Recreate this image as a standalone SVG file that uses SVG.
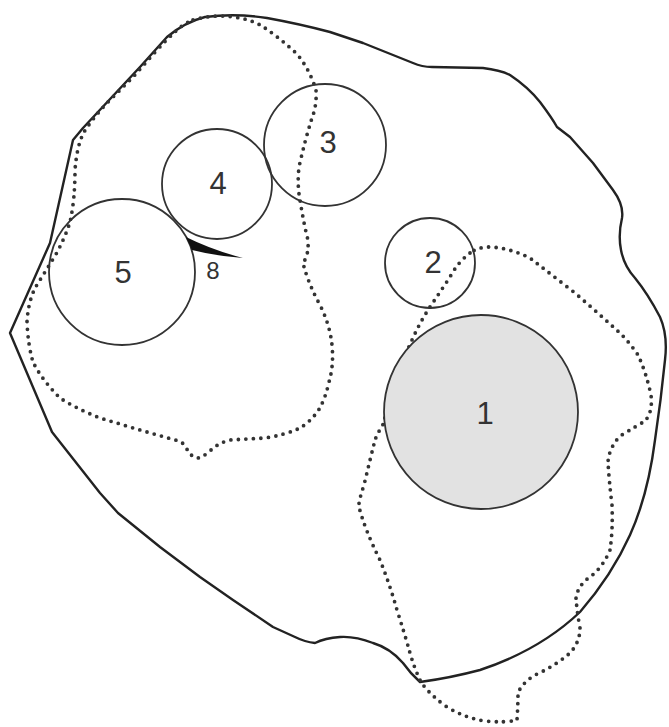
<svg xmlns="http://www.w3.org/2000/svg" width="669" height="727" viewBox="0 0 669 727">
<style>
.outline{fill:none;stroke:#222;stroke-width:2.4;stroke-linejoin:round;stroke-linecap:round}
.dots{fill:none;stroke:#333;stroke-width:3.8;stroke-dasharray:0 7.5;stroke-linecap:round;stroke-linejoin:round}
.c{fill:none;stroke:#333;stroke-width:1.8}
.c1{fill:#e2e2e2;stroke:#333;stroke-width:1.8}
.lbl{font-family:"Liberation Sans",Arial,sans-serif;font-size:31px;fill:#333;text-anchor:middle}
.lbl8{font-family:"Liberation Sans",Arial,sans-serif;font-size:24px;fill:#333;text-anchor:middle}
</style>
<rect width="669" height="727" fill="#fff"/>
<g id="regions">
<path id="outer" class="outline" d="M10,333 L50,243 L73,140 L83,128 L140,67 L167,37 Q185,22 205,17 Q235,13 267,18 Q300,24 330,32 L363,43 L413,63 Q422,67 432,67 L483,68 Q500,70 510,75 Q528,87 540,102 Q552,118 557,127 L570,137 L593,163 L613,190 Q624,205 622,218 Q618,235 621,250 Q624,266 635,278 Q648,294 660,317 Q668,335 665,360 Q661,400 655,440 Q648,495 630,535 Q612,575 580,612 Q540,650 480,670 Q450,678 420,682 Q410,673 403,663 Q390,648 373,643 Q355,636 340,637 Q325,638 315,643 Q305,642 295,637 L273,627 L233,600 L200,577 L160,547 L118,513 L100,493 L52,432 Z"/>
<path id="regionA" class="dots" d="M193,20 Q215,14 233,17 Q250,19 262,26 Q280,38 297,54 Q310,70 316,90 Q317,105 312,118 Q305,140 299,167 Q297,185 300,200 Q304,225 308,240 Q309,255 303,263 Q308,283 320,305 Q330,325 332,345 Q334,365 329,382 Q325,400 318,411 Q310,422 300,428 Q285,435 265,438 L230,440 Q218,443 210,451 Q203,457 198,458 Q190,457 186,447 Q182,441 175,440 L140,430 L100,418 Q75,408 60,398 Q42,380 33,362 Q28,345 27,322 Q28,303 35,288 Q45,272 55,256 Q65,238 70,222 Q75,200 75,170 Q77,145 84,132 Q95,115 110,100 L133,77 L157,50 Q168,38 175,32 Q183,24 193,20 Z"/>
<path id="regionB" class="dots" d="M470,253 Q458,262 450,277 Q440,292 430,307 Q420,322 412,340 Q405,355 400,370 Q393,383 390,395 Q386,410 384,423 Q378,432 375,440 Q370,460 364,485 Q358,503 359,507 Q365,530 380,560 Q390,585 397,610 Q405,635 410,653 Q415,670 421,682 Q430,695 447,707 Q465,718 485,721 Q505,723 517,720 Q518,705 518,693 Q522,683 535,675 Q555,666 570,653 Q580,642 580,628 Q577,612 576,598 Q578,585 590,577 Q603,567 610,550 Q613,530 612,505 Q609,480 608,462 Q609,448 620,436 Q635,427 645,421 Q653,412 651,395 Q646,372 638,355 Q630,343 620,333 Q598,313 575,293 Q552,275 530,258 Q510,248 490,247 Q478,247 470,253 Z"/>
</g>
<g id="node-5"><circle class="c" cx="122" cy="272" r="73"/><text class="lbl" x="123" y="283">5</text></g>
<g id="node-4"><circle class="c" cx="217" cy="184" r="55"/><text class="lbl" x="218" y="194">4</text></g>
<g id="node-3"><circle class="c" cx="325" cy="145" r="61"/><text class="lbl" x="328" y="153">3</text></g>
<g id="node-2"><circle class="c" cx="430" cy="263" r="45"/><text class="lbl" x="433" y="273">2</text></g>
<g id="node-1"><circle class="c1" cx="481" cy="412" r="97"/><text class="lbl" x="485" y="424">1</text></g>
<g id="node-8"><path d="M186,237 Q212,250 243,258 Q215,256 192,250 Z" fill="#111"/><text class="lbl8" x="213" y="279">8</text></g>
</svg>
